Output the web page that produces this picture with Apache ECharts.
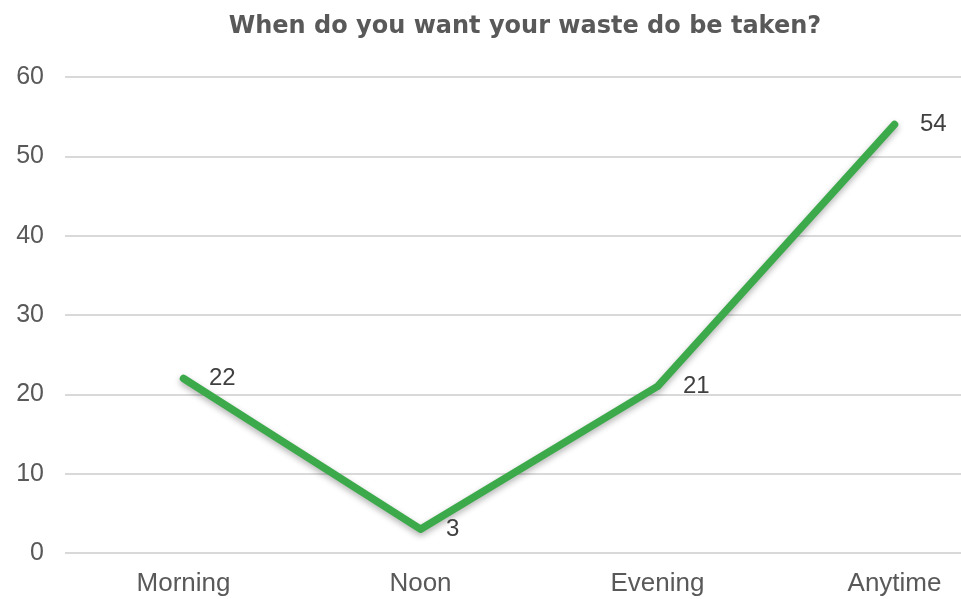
<!DOCTYPE html>
<html>
<head>
<meta charset="utf-8">
<script src="https://cdn.jsdelivr.net/npm/echarts@6/dist/echarts.min.js"></script>
<style>html,body{margin:0;padding:0;background:#fff;}#chart{width:961px;height:599px;}</style>
</head>
<body>
<div id="chart"></div>
<script>
var titleText = "When do you want your waste do be taken?";
var categories = ["Morning", "Noon", "Evening", "Anytime"];
var values = [22, 3, 21, 54];
var yTicks = [0, 10, 20, 30, 40, 50, 60];

var chart = echarts.init(document.getElementById('chart'));
chart.setOption({
  animation: false,
  backgroundColor: '#ffffff',
  title: {
    text: titleText,
    left: 520, top: 10, textAlign: 'center',
    textStyle: {fontFamily: 'DejaVu Sans', fontWeight: 'bold', fontSize: 24, color: '#595959'}
  },
  grid: {left: 65, width: 948, top: 77, bottom: 46, outerBoundsMode: 'none', containLabel: false},
  xAxis: {
    type: 'category', data: categories, boundaryGap: true,
    axisLine: {show: false}, axisTick: {show: false},
    axisLabel: {fontFamily: 'Liberation Sans', fontSize: 26, color: '#595959', margin: 18}
  },
  yAxis: {
    type: 'value', min: yTicks[0], max: yTicks[yTicks.length - 1], interval: 10,
    axisLine: {show: false}, axisTick: {show: false},
    axisLabel: {fontFamily: 'Liberation Sans', fontSize: 25, color: '#595959', margin: 21},
    splitLine: {lineStyle: {color: '#d9d9d9', width: 2}}
  },
  series: [{
    type: 'line', data: values, symbol: 'circle', symbolSize: 1, showSymbol: true,
    itemStyle: {color: 'rgba(58,168,74,0)'},
    lineStyle: {color: '#3caa4b', width: 7.5, cap: 'round', join: 'round',
      shadowColor: 'rgba(0,0,0,0.3)', shadowBlur: 6, shadowOffsetY: 3},
    label: {show: true, position: 'right', distance: 25,
      fontFamily: 'Liberation Sans', fontSize: 24, color: '#404040'}
  }]
});
</script>
</body>
</html>
